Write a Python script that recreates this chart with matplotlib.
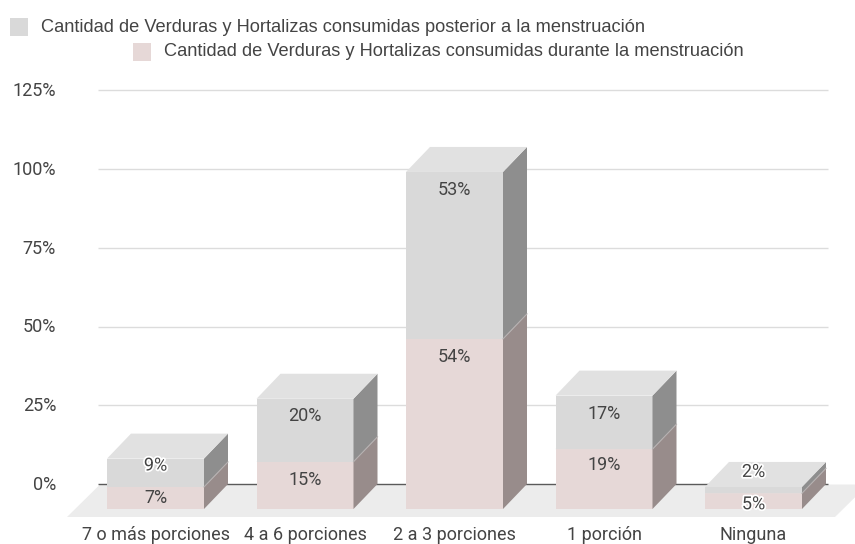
"""Stacked pseudo-3D column chart of vegetable portions."""

import matplotlib

matplotlib.use("Agg")
import matplotlib.patheffects as pe
import matplotlib.pyplot as plt
from matplotlib.patches import Rectangle

categories = ["7 o más porciones", "4 a 6 porciones", "2 a 3 porciones", "1 porción", "Ninguna"]
durante = [7, 15, 54, 19, 5]
posterior = [9, 20, 53, 17, 2]
y_ticks = [0, 25, 50, 75, 100, 125]
legend_posterior = "Cantidad de Verduras y Hortalizas consumidas posterior a la menstruación"
legend_durante = "Cantidad de Verduras y Hortalizas consumidas durante la menstruación"

W, H = 855, 544
PX_X = 149.5  # pixels per category
PX_Y = 3.15  # pixels per percent
X0, Y0 = 155.5, 509  # pixel position of first bar centre / front baseline
BAR_W = 97 / PX_X
DX, DY = 24 / PX_X, 25 / PX_Y

GRAY = ("#d9d9d9", "#e1e1e1", "#8e8e8e")
PINK = ("#e6d8d7", "#e1e1e1", "#988c8b")
TEXT = "#444444"

plt.rcParams["font.family"] = ["Roboto", "DejaVu Sans"]

fig = plt.figure(figsize=(W / 100, H / 100), dpi=100)
ax = fig.add_axes([0, 0, 1, 1])
ax.set_xlim(-X0 / PX_X, (W - X0) / PX_X)
ax.set_ylim((Y0 - H) / PX_Y, Y0 / PX_Y)
ax.axis("off")


def px(x, y):
    """Pixel position (from top left) to data coordinates."""
    return (x - X0) / PX_X, (Y0 - y) / PX_Y


# floor
ax.fill(*zip(px(67, 517), px(100, 484.5), px(868, 484.5), px(835, 517)), color="#ececec", lw=0, zorder=1)

# gridlines sit on the back wall
x_left, x_right = px(98, 0)[0], px(828, 0)[0]
for t in y_ticks:
    ax.hlines(t + DY, x_left, x_right, color="#5a5a5a" if t == 0 else "#dcdcdc", lw=1.0, zorder=2)
    ax.text(px(56, 0)[0], t + DY - 0.3, f"{t}%", ha="right", va="center", fontsize=13, color=TEXT)


def draw_segment(i, bottom, height, colors, z):
    left, right = i - BAR_W / 2, i + BAR_W / 2
    top = bottom + height
    ax.bar(i, height, BAR_W, bottom=bottom, color=colors[0], lw=0, zorder=z)
    ax.fill([right, right + DX, right + DX, right],
            [bottom, bottom + DY, top + DY, top], color=colors[2], lw=0, zorder=z)
    ax.fill([left, left + DX, right + DX, right],
            [top, top + DY, top + DY, top], color=colors[1], lw=0, zorder=z)


# offsets of the value labels below the top of their segment, in pixels
offs_pink = [11, 18, 18, 16, 11]
offs_gray = [7, 17, 18, 18, -15]
halo_pink = [False, False, False, False, True]
halo_gray = [True, False, False, False, True]

for i, (a, b) in enumerate(zip(durante, posterior)):
    z = 3 + i
    draw_segment(i, 0, a, PINK, z)
    draw_segment(i, a, b, GRAY, z + 0.1)
    ax.plot([i + BAR_W / 2, i + BAR_W / 2 + DX], [a, a + DY], color="#b5b0b0", lw=0.8, zorder=z + 0.2)
    for top, off, val, halo in [(a, offs_pink[i], a, halo_pink[i]), (a + b, offs_gray[i], b, halo_gray[i])]:
        t = ax.text(i, top - off / PX_Y, f"{val}%", ha="center", va="center",
                    fontsize=13, color=TEXT, zorder=20)
        if halo:
            t.set_path_effects([pe.withStroke(linewidth=2.5, foreground="white")])
    ax.text(i, px(0, 535.5)[1], categories[i], ha="center", va="center", fontsize=13, color=TEXT)

# legend
legend_font = ["Liberation Sans", "DejaVu Sans"]
for sx, sy, col, tx, label in [
    (10, 18, GRAY[0], 41, legend_posterior),
    (133, 43, PINK[0], 164, legend_durante),
]:
    ax.add_patch(Rectangle((sx / W, 1 - (sy + 18) / H), 18 / W, 18 / H, color=col, lw=0, transform=ax.transAxes))
    ax.text(tx / W, 1 - (sy + 9) / H, label, transform=ax.transAxes, ha="left", va="center",
            fontsize=13.15, color=TEXT, family=legend_font)

fig.savefig("out.png", dpi=100)
